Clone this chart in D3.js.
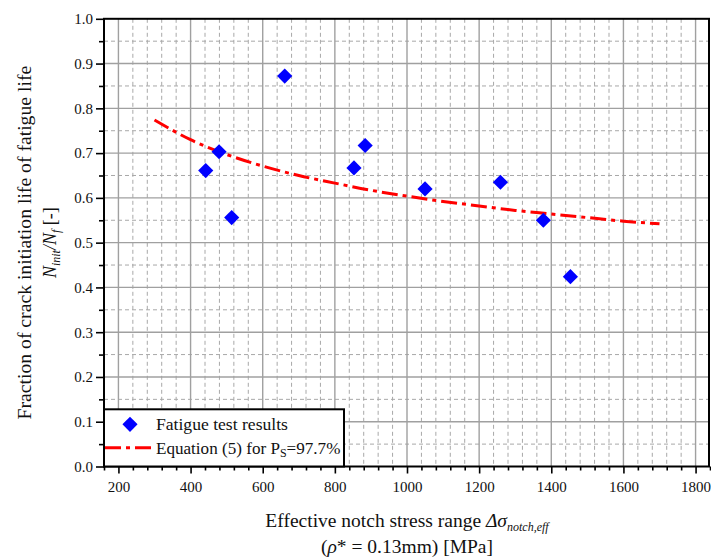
<!DOCTYPE html>
<html>
<head>
<meta charset="utf-8">
<script src="https://cdn.jsdelivr.net/npm/d3@7/dist/d3.min.js"></script>
<style>
  html, body { margin: 0; padding: 0; background: #fff; }
  svg { display: block; }
  text { font-family: "Liberation Serif", "DejaVu Serif", serif; fill: #111; }
</style>
</head>
<body>
<svg id="chart" width="711" height="560"></svg>
<script>
// Fatigue test results: effective notch stress range vs. crack initiation fraction
const testStress = [442, 479, 514, 661, 853, 884, 1050, 1259, 1378, 1453];
const testFraction = [0.661, 0.703, 0.556, 0.872, 0.667, 0.717, 0.620, 0.635, 0.550, 0.424];

// Equation (5) curve for Ps = 97.7 %
const eqStress = [300, 400, 500, 600, 700, 800, 900, 1000, 1100, 1200, 1300, 1400, 1500, 1600, 1700];
const eqFraction = [0.774, 0.730, 0.697, 0.671, 0.650, 0.633, 0.617, 0.604, 0.592, 0.582, 0.572, 0.564, 0.556, 0.548, 0.542];

// Axis ticks
const xMajorTicks = [200, 400, 600, 800, 1000, 1200, 1400, 1600, 1800];
const xMinorTicks = [160, 240, 280, 320, 360, 440, 480, 520, 560, 640, 680, 720, 760, 840, 880, 920, 960,
  1040, 1080, 1120, 1160, 1240, 1280, 1320, 1360, 1440, 1480, 1520, 1560, 1640, 1680, 1720, 1760, 1840];
const yMajorTicks = [0.0, 0.1, 0.2, 0.3, 0.4, 0.5, 0.6, 0.7, 0.8, 0.9, 1.0];
const yMinorTicks = [0.05, 0.15, 0.25, 0.35, 0.45, 0.55, 0.65, 0.75, 0.85, 0.95];

const svg = d3.select("#chart");
const plotL = 104, plotR = 710, plotT = 18.8, plotB = 466.5;

const x = d3.scaleLinear().domain([160, 1840]).range([plotL, plotR]);
const y = d3.scaleLinear().domain([0, 1]).range([plotB, plotT]);

// Plot background
svg.append("rect").attr("x", plotL).attr("y", plotT)
  .attr("width", plotR - plotL).attr("height", plotB - plotT).attr("fill", "#fff");

// Minor grid (dashed)
const grid = svg.append("g");
grid.selectAll(".vminor").data(xMinorTicks.filter(v => v > 160 && v < 1840)).join("line")
  .attr("x1", d => x(d)).attr("x2", d => x(d)).attr("y1", plotT).attr("y2", plotB)
  .attr("stroke", "#a8a8a8").attr("stroke-width", 1).attr("stroke-dasharray", "4,3");
grid.selectAll(".hminor").data(yMinorTicks).join("line")
  .attr("y1", d => y(d)).attr("y2", d => y(d)).attr("x1", plotL).attr("x2", plotR)
  .attr("stroke", "#a8a8a8").attr("stroke-width", 1).attr("stroke-dasharray", "4,3");
// Major grid (solid)
grid.selectAll(".vmajor").data(xMajorTicks).join("line")
  .attr("x1", d => x(d)).attr("x2", d => x(d)).attr("y1", plotT).attr("y2", plotB)
  .attr("stroke", "#a0a0a0").attr("stroke-width", 1.4);
grid.selectAll(".hmajor").data(yMajorTicks.filter(v => v > 0 && v < 1)).join("line")
  .attr("y1", d => y(d)).attr("y2", d => y(d)).attr("x1", plotL).attr("x2", plotR)
  .attr("stroke", "#a0a0a0").attr("stroke-width", 1.4);

// Equation curve
const line = d3.line().x((d, i) => x(eqStress[i])).y(d => y(d)).curve(d3.curveMonotoneX);
svg.append("path").datum(eqFraction)
  .attr("d", line).attr("fill", "none").attr("stroke", "#ff0000")
  .attr("stroke-width", 3).attr("stroke-dasharray", "16,5,4,5");

// Test points (diamonds)
const diamond = d3.symbol().type(d3.symbolSquare).size(115);
svg.selectAll(".pt").data(testFraction).join("path")
  .attr("d", diamond)
  .attr("transform", (d, i) => `translate(${x(testStress[i])},${y(d)}) rotate(45)`)
  .attr("fill", "#0000ff");

// Frame
svg.append("rect").attr("x", plotL).attr("y", plotT)
  .attr("width", plotR - plotL - 1).attr("height", plotB - plotT)
  .attr("fill", "none").attr("stroke", "#000").attr("stroke-width", 2);

// Axes
function styleAxis(g) {
  g.attr("font-family", null);
  g.select(".domain").remove();
  g.selectAll(".tick line").attr("stroke", "#000").attr("stroke-width", 1.6);
  g.selectAll(".tick text").attr("font-size", 15).attr("fill", "#111");
}
svg.append("g").attr("transform", `translate(0,${plotB})`)
  .call(d3.axisBottom(x).tickValues(xMinorTicks).tickSize(4).tickFormat(""))
  .call(styleAxis);
svg.append("g").attr("transform", `translate(0,${plotB})`)
  .call(d3.axisBottom(x).tickValues(xMajorTicks).tickSize(7).tickPadding(8).tickFormat(d3.format("d")))
  .call(styleAxis);
svg.append("g").attr("transform", `translate(${plotL},0)`)
  .call(d3.axisLeft(y).tickValues(yMinorTicks).tickSize(5).tickFormat(""))
  .call(styleAxis);
svg.append("g").attr("transform", `translate(${plotL},0)`)
  .call(d3.axisLeft(y).tickValues(yMajorTicks).tickSize(8).tickPadding(3).tickFormat(d3.format(".1f")))
  .call(styleAxis);

// Legend
const lg = svg.append("g");
lg.append("rect").attr("x", plotL).attr("y", 409.3).attr("width", 240).attr("height", plotB - 409.3)
  .attr("fill", "#fff").attr("stroke", "#000").attr("stroke-width", 2);
lg.append("path").attr("d", diamond).attr("transform", "translate(130,424.3) rotate(45)").attr("fill", "#0000ff");
lg.append("text").attr("x", 156).attr("y", 429.5).attr("font-size", 17.6).text("Fatigue test results");
lg.append("line").attr("x1", plotL + 1).attr("x2", 152).attr("y1", 447.7).attr("y2", 447.7)
  .attr("stroke", "#ff0000").attr("stroke-width", 3).attr("stroke-dasharray", "16,5,4,5");
const t2 = lg.append("text").attr("x", 156).attr("y", 454).attr("font-size", 17.1);
t2.append("tspan").text("Equation (5) for P");
t2.append("tspan").attr("font-size", 12).attr("dy", 3).text("S");
t2.append("tspan").attr("dy", -3).text("=97.7%");

// X axis title
const xt1 = svg.append("text").attr("x", (plotL + plotR) / 2).attr("y", 526.5)
  .attr("text-anchor", "middle").attr("font-size", 19.5);
xt1.append("tspan").text("Effective notch stress range ");
xt1.append("tspan").attr("font-style", "italic").text("Δσ");
xt1.append("tspan").attr("font-style", "italic").attr("font-size", 12).attr("dy", 4).text("notch,eff");
const xt2 = svg.append("text").attr("x", (plotL + plotR) / 2).attr("y", 553)
  .attr("text-anchor", "middle").attr("font-size", 19.5);
xt2.append("tspan").text("(");
xt2.append("tspan").attr("font-style", "italic").text("ρ");
xt2.append("tspan").text("* = 0.13mm) [MPa]");

// Y axis title
const yc = (plotT + plotB) / 2;
svg.append("text").attr("transform", `translate(31,${yc}) rotate(-90)`)
  .attr("text-anchor", "middle").attr("font-size", 19.7)
  .text("Fraction of crack initiation life of fatigue life");
const yt2 = svg.append("text").attr("transform", `translate(56,${yc}) rotate(-90)`)
  .attr("text-anchor", "middle").attr("font-size", 18);
yt2.append("tspan").attr("font-style", "italic").text("N");
yt2.append("tspan").attr("font-style", "italic").attr("font-size", 12).attr("dy", 4).text("init");
yt2.append("tspan").attr("font-style", "italic").attr("dy", -4).text("/N");
yt2.append("tspan").attr("font-style", "italic").attr("font-size", 12).attr("dy", 4).text("f");
yt2.append("tspan").attr("dy", -4).text(" [-]");
</script>
</body>
</html>
